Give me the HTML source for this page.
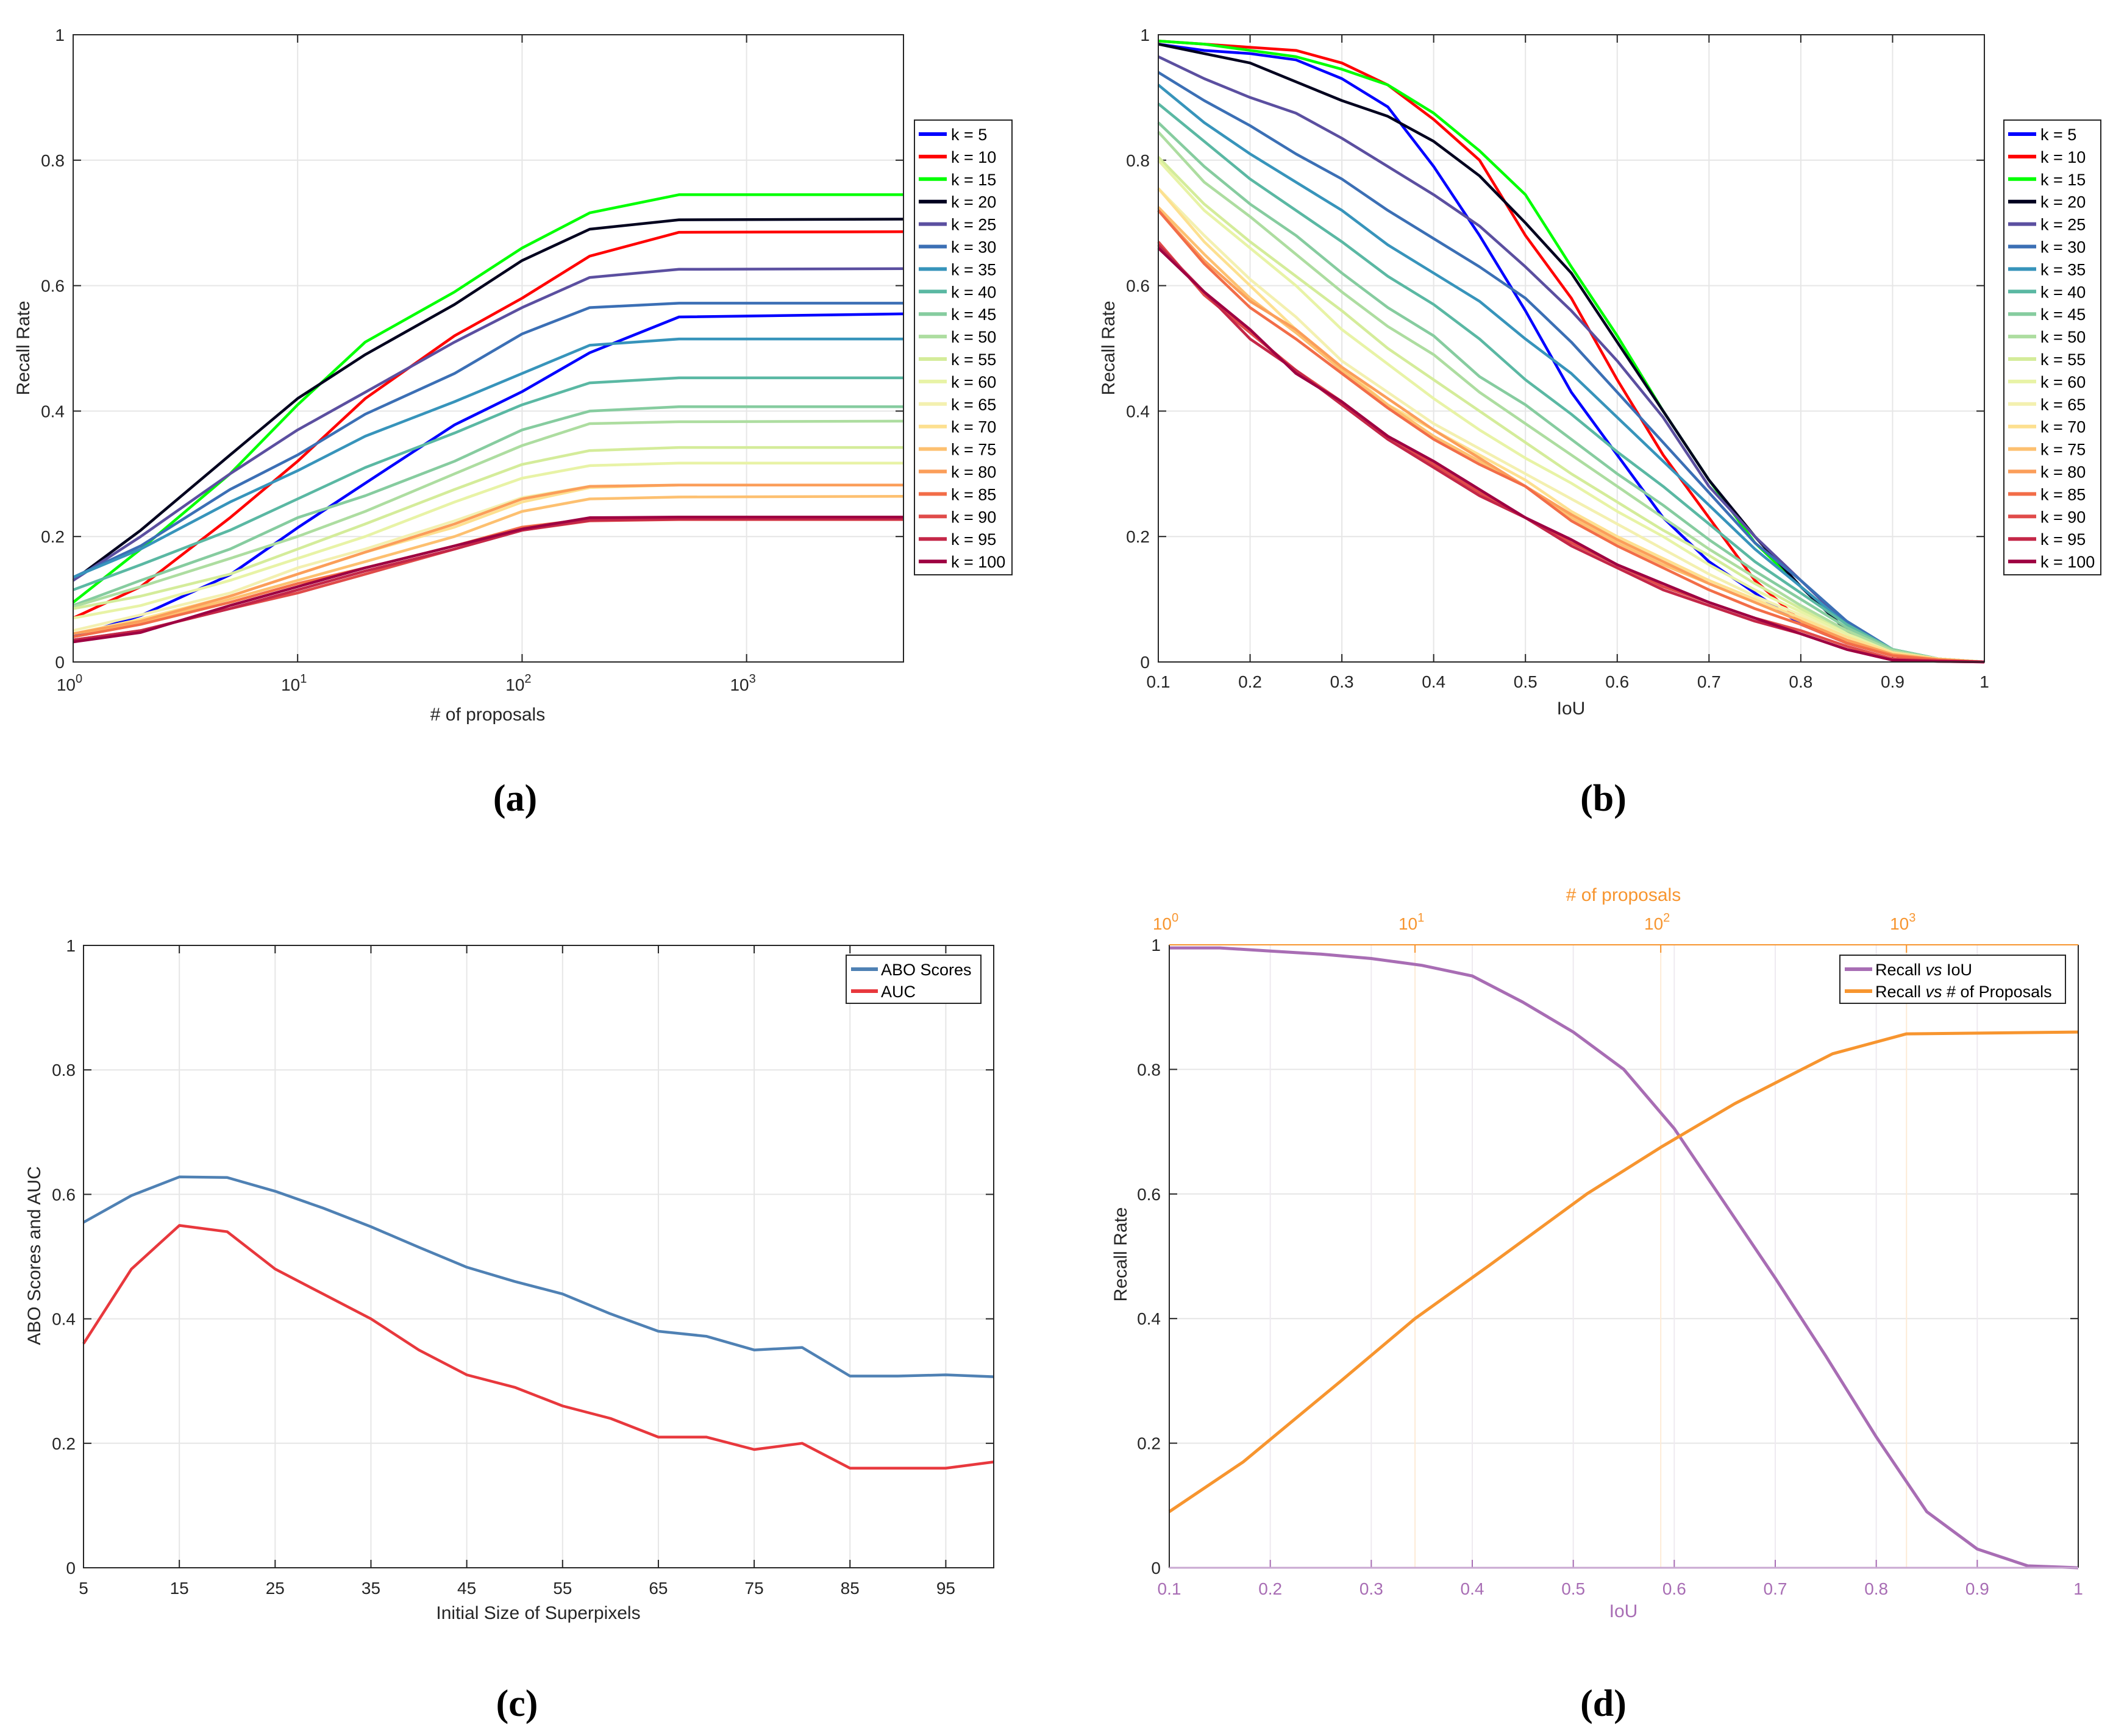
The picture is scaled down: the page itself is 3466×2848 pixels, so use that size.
<!DOCTYPE html>
<html><head><meta charset="utf-8"><title>Recall charts</title>
<style>
html,body{margin:0;padding:0;background:#fff;}
svg{display:block;font-family:"Liberation Sans",Arial,sans-serif;}
</style></head>
<body>
<svg id="fig" width="3466" height="2848" viewBox="0 0 3466 2848" xmlns="http://www.w3.org/2000/svg"></svg>
<script>
// ---------- DATA ----------
const kLabels=["k = 5","k = 10","k = 15","k = 20","k = 25","k = 30","k = 35","k = 40","k = 45","k = 50","k = 55","k = 60","k = 65","k = 70","k = 75","k = 80","k = 85","k = 90","k = 95","k = 100"];
const kColors=["#0000ff","#ff0000","#00ff00","#00001e","#5b4fa0","#3b6fb5","#3794bb","#5ab8a3","#86cc9f","#addda0","#d4ec9a","#e8f3a6","#f3f0b0","#fde090","#fdc070","#fb9e5a","#f26d48","#e04b4a","#c42748","#9e0142"];
const aProposals=[1,2,5,10,20,50,100,200,500,5000];
const aRecall=[
[0.040,0.074,0.139,0.214,0.285,0.378,0.431,0.493,0.550,0.555],
[0.070,0.120,0.230,0.320,0.420,0.520,0.580,0.647,0.685,0.686],
[0.095,0.180,0.300,0.410,0.510,0.590,0.660,0.716,0.745,0.745],
[0.130,0.210,0.330,0.420,0.490,0.570,0.640,0.690,0.705,0.706],
[0.130,0.200,0.300,0.370,0.430,0.510,0.565,0.613,0.626,0.627],
[0.135,0.185,0.275,0.330,0.395,0.460,0.523,0.565,0.572,0.572],
[0.135,0.180,0.255,0.305,0.360,0.415,0.460,0.505,0.515,0.515],
[0.115,0.155,0.210,0.260,0.310,0.365,0.410,0.445,0.453,0.453],
[0.090,0.130,0.180,0.230,0.265,0.320,0.370,0.400,0.407,0.407],
[0.088,0.120,0.165,0.200,0.240,0.300,0.345,0.380,0.383,0.384],
[0.085,0.105,0.140,0.180,0.220,0.275,0.315,0.337,0.342,0.342],
[0.070,0.090,0.130,0.165,0.200,0.255,0.293,0.313,0.317,0.317],
[0.050,0.075,0.110,0.150,0.180,0.225,0.262,0.280,0.282,0.282],
[0.045,0.068,0.105,0.140,0.175,0.215,0.255,0.278,0.282,0.282],
[0.045,0.062,0.100,0.130,0.160,0.200,0.240,0.260,0.263,0.264],
[0.045,0.065,0.105,0.140,0.175,0.220,0.260,0.280,0.282,0.282],
[0.040,0.060,0.095,0.125,0.150,0.185,0.215,0.228,0.230,0.230],
[0.035,0.050,0.085,0.110,0.140,0.180,0.210,0.225,0.227,0.227],
[0.035,0.050,0.085,0.115,0.145,0.180,0.210,0.226,0.228,0.228],
[0.032,0.047,0.090,0.120,0.150,0.185,0.212,0.230,0.231,0.231]];
const bIoU=[0.1,0.15,0.2,0.25,0.3,0.35,0.4,0.45,0.5,0.55,0.6,0.65,0.7,0.75,0.8,0.85,0.9,0.95,1];
const bRecall=[
[.985,.975,.97,.96,.93,.885,.79,.68,.56,.43,.33,.23,.16,.11,.06,.03,.01,.003,0],
[.99,.985,.98,.975,.955,.92,.865,.80,.68,.58,.45,.33,.23,.13,.065,.03,.01,.003,0],
[.99,.985,.975,.965,.945,.92,.875,.815,.745,.63,.52,.40,.29,.19,.12,.06,.02,.005,0],
[.985,.97,.955,.925,.895,.87,.83,.775,.70,.62,.51,.40,.29,.20,.12,.05,.015,.005,0],
[.965,.93,.90,.875,.835,.79,.745,.695,.63,.56,.48,.39,.28,.20,.13,.06,.02,.005,0],
[.94,.895,.855,.81,.77,.72,.675,.63,.58,.51,.43,.35,.27,.19,.13,.065,.02,.005,0],
[.92,.86,.81,.765,.72,.665,.62,.575,.515,.46,.39,.32,.25,.18,.12,.06,.02,.005,0],
[.89,.83,.77,.72,.67,.615,.57,.515,.45,.395,.335,.28,.22,.16,.11,.06,.02,.005,0],
[.86,.79,.73,.68,.62,.565,.52,.455,.41,.355,.30,.25,.195,.145,.10,.055,.02,.005,0],
[.845,.765,.71,.65,.59,.535,.49,.43,.38,.33,.28,.23,.18,.135,.09,.05,.018,.005,0],
[.805,.73,.67,.615,.56,.50,.45,.40,.35,.30,.255,.21,.17,.125,.085,.045,.015,.005,0],
[.80,.72,.66,.60,.53,.475,.42,.37,.325,.285,.24,.20,.155,.115,.08,.045,.015,.005,0],
[.755,.68,.61,.55,.48,.43,.38,.34,.30,.26,.22,.18,.14,.105,.075,.04,.015,.005,0],
[.755,.67,.60,.53,.47,.41,.37,.33,.29,.24,.20,.165,.13,.10,.07,.04,.015,.005,0],
[.725,.65,.58,.525,.465,.41,.36,.32,.28,.23,.19,.155,.125,.095,.065,.035,.012,.004,0],
[.72,.64,.575,.53,.47,.42,.37,.325,.28,.235,.195,.16,.125,.095,.065,.035,.012,.004,0],
[.72,.635,.565,.515,.46,.405,.355,.315,.28,.225,.185,.15,.115,.085,.06,.03,.01,.003,0],
[.67,.585,.525,.465,.415,.36,.315,.27,.23,.19,.155,.12,.095,.07,.05,.025,.005,.002,0],
[.665,.59,.515,.465,.41,.355,.31,.265,.23,.185,.15,.115,.09,.065,.045,.02,.003,.001,0],
[.66,.59,.53,.46,.415,.36,.32,.275,.23,.195,.155,.125,.095,.07,.045,.02,.003,.001,0]];
const cSizes=[5,10,15,20,25,30,35,40,45,50,55,60,65,70,75,80,85,90,95,100];
const cABO=[.555,.598,.628,.627,.605,.578,.548,.515,.483,.46,.44,.408,.38,.372,.35,.354,.308,.308,.31,.307];
const cAUC=[.36,.48,.55,.54,.48,.44,.40,.35,.31,.29,.26,.24,.21,.21,.19,.20,.16,.16,.16,.17];
const dIoU=[0.1,0.15,0.2,0.25,0.3,0.35,0.4,0.45,0.5,0.55,0.6,0.65,0.7,0.75,0.8,0.85,0.9,0.95,1];
const dRecallIoU=[.995,.995,.99,.985,.978,.967,.95,.908,.86,.80,.705,.585,.465,.34,.21,.09,.03,.003,0];
const dProposals=[1,2,5,10,20,50,100,200,500,1000,5000];
const dRecallProp=[.09,.17,.30,.40,.485,.60,.675,.745,.825,.857,.86];
const yTicks=[0,0.2,0.4,0.6,0.8,1];
const yTickLabels=["0","0.2","0.4","0.6","0.8","1"];
const iouTicks=[0.1,0.2,0.3,0.4,0.5,0.6,0.7,0.8,0.9,1];
const iouTickLabels=["0.1","0.2","0.3","0.4","0.5","0.6","0.7","0.8","0.9","1"];
const logTicks=[1,10,100,1000];
const logExps=["0","1","2","3"];
const cTicks=[5,15,25,35,45,55,65,75,85,95];
const cTickLabels=["5","15","25","35","45","55","65","75","85","95"];

// ---------- HELPERS ----------
const NS="http://www.w3.org/2000/svg";
const svg=document.getElementById("fig");
function mk(tag,attrs,parent){const e=document.createElementNS(NS,tag);for(const k in attrs)e.setAttribute(k,attrs[k]);(parent||svg).appendChild(e);return e;}
function linScale(d0,d1,r0,r1){return v=>r0+(v-d0)/(d1-d0)*(r1-r0);}
function logScale(d0,d1,r0,r1){return v=>r0+(Math.log10(v)-Math.log10(d0))/(Math.log10(d1)-Math.log10(d0))*(r1-r0);}
function poly(xs,ys,sx,sy,color,g,w){
  const pts=xs.map((x,i)=>sx(x).toFixed(1)+","+sy(ys[i]).toFixed(1)).join(" ");
  return mk("polyline",{points:pts,fill:"none",stroke:color,"stroke-width":w||4.5,"stroke-linejoin":"round"},g);
}
function panel(name){
  const g=mk("g",{});
  
  
  return g;
}
function yAxis(g,sy,L,R,labX){
  yTicks.forEach((v,i)=>{
    const y=sy(v);
    const gl=mk("line",{x1:L,x2:R,y1:y,y2:y,stroke:"#e6e6e6","stroke-width":2},g);
    
    
    mk("line",{x1:L,x2:L+13,y1:y,y2:y,stroke:"#262626","stroke-width":2},g);
    mk("line",{x1:R,x2:R-13,y1:y,y2:y,stroke:"#262626","stroke-width":2},g);
    const t=mk("text",{x:labX,y:y+10,"text-anchor":"end","font-size":28,fill:"#262626"},g);
    t.textContent=yTickLabels[i];
    
    
  });
}
function xTicksLin(g,sx,ticks,labels,T,B,labY,color,gridColor,tickColor){
  ticks.forEach((v,i)=>{
    const x=sx(v);
    const gl=mk("line",{x1:x,x2:x,y1:T,y2:B,stroke:gridColor||"#e6e6e6","stroke-width":2},g);
    
    
    mk("line",{x1:x,x2:x,y1:B,y2:B-13,stroke:tickColor||"#262626","stroke-width":2},g);
    if(!tickColor) mk("line",{x1:x,x2:x,y1:T,y2:T+13,stroke:"#262626","stroke-width":2},g);
    const t=mk("text",{x:x,y:labY,"text-anchor":"middle","font-size":28,fill:color||"#262626"},g);
    t.textContent=labels[i];
    
    
  });
}
function xTicksLog(g,sx,T,B,labY,color,top){
  logTicks.forEach((v,i)=>{
    const x=sx(v);
    const gl=mk("line",{x1:x,x2:x,y1:T,y2:B,stroke:top?"#fdebd6":"#e6e6e6","stroke-width":2},g);
    
    
    if(top){mk("line",{x1:x,x2:x,y1:T,y2:T+13,stroke:color,"stroke-width":2},g);}
    else{mk("line",{x1:x,x2:x,y1:B,y2:B-13,stroke:"#262626","stroke-width":2},g);mk("line",{x1:x,x2:x,y1:T,y2:T+13,stroke:"#262626","stroke-width":2},g);}
    const t=mk("text",{x:x-6,y:labY,"text-anchor":"middle","font-size":28,fill:color},g);
    t.textContent="10";
    const s=mk("tspan",{dy:-13,"font-size":20},t);
    s.textContent=logExps[i];
    
    
  });
}
function frame(g,L,R,T,B){
  mk("rect",{x:L,y:T,width:R-L,height:B-T,fill:"none",stroke:"#262626","stroke-width":2},g);
}
function label(g,txt,x,y,opts){
  const t=mk("text",Object.assign({x:x,y:y,"text-anchor":"middle","font-size":30,fill:"#262626"},opts||{}),g);
  t.textContent=txt;return t;
}
function caption(txt,x,y,name){
  const t=mk("text",{x:x,y:y,"text-anchor":"middle","font-size":62,"font-weight":"bold","font-family":"Liberation Serif, serif",fill:"#000"});
  t.textContent=txt;
  
  
}
function kLegend(g,x0,y0,w,h,lineX0,lineX1,textX,rowY0,step){
  const lg=mk("g",{},g);
  
  
  mk("rect",{x:x0,y:y0,width:w,height:h,fill:"#fff",stroke:"#262626","stroke-width":2},lg);
  kLabels.forEach((lab,i)=>{
    const y=rowY0+i*step;
    const e=mk("g",{},lg);
    
    
    mk("line",{x1:lineX0,x2:lineX1,y1:y,y2:y,stroke:kColors[i],"stroke-width":6},e);
    const t=mk("text",{x:textX,y:y+10,"font-size":27,fill:"#000"},e);
    t.textContent=lab;
  });
}

// ---------- PANEL A ----------
(function(){
  const L=120,R=1482,T=57,B=1086;
  const g=panel("chart-a-recall-vs-proposals");
  const sx=logScale(1,5000,L,R), sy=linScale(0,1,B,T);
  yAxis(g,sy,L,R,106);
  xTicksLog(g,sx,T,B,1133,"#262626",false);
  aRecall.forEach((ys,i)=>{const p=poly(aProposals,ys,sx,sy,kColors[i],g);
    
    });
  frame(g,L,R,T,B);
  const yl=label(g,"Recall Rate",0,0,{transform:"translate(48,571) rotate(-90)"});
  
  
  const xl=label(g,"# of proposals",800,1182);
  
  
  kLegend(g,1500,197,160,746,1507,1553,1560,220,36.9);
  caption("(a)",845,1330,"caption-a");
})();

// ---------- PANEL B ----------
(function(){
  const L=1900,R=3255,T=57,B=1086;
  const g=panel("chart-b-recall-vs-iou");
  const sx=linScale(0.1,1,L,R), sy=linScale(0,1,B,T);
  yAxis(g,sy,L,R,1886);
  xTicksLin(g,sx,iouTicks,iouTickLabels,T,B,1128);
  bRecall.forEach((ys,i)=>{const p=poly(bIoU,ys,sx,sy,kColors[i],g);
    
    });
  frame(g,L,R,T,B);
  const yl=label(g,"Recall Rate",0,0,{transform:"translate(1828,571) rotate(-90)"});
  
  
  const xl=label(g,"IoU",2577,1172);
  
  
  kLegend(g,3287,197,159,746,3294,3340,3347,220,36.9);
  caption("(b)",2630,1330,"caption-b");
})();

// ---------- PANEL C ----------
(function(){
  const L=137,R=1630,T=1551,B=2572;
  const g=panel("chart-c-abo-auc");
  const sx=linScale(5,100,L,R), sy=linScale(0,1,B,T);
  yAxis(g,sy,L,R,124);
  xTicksLin(g,sx,cTicks,cTickLabels,T,B,2615);
  const p1=poly(cSizes,cABO,sx,sy,"#4f81b4",g);
  
  
  const p2=poly(cSizes,cAUC,sx,sy,"#e8383d",g);
  
  
  frame(g,L,R,T,B);
  const yl=label(g,"ABO Scores and AUC",0,0,{transform:"translate(66,2060) rotate(-90)"});
  
  
  const xl=label(g,"Initial Size of Superpixels",883,2656);
  
  
  const lg=mk("g",{},g);
  
  
  mk("rect",{x:1388,y:1567,width:221,height:79,fill:"#fff",stroke:"#262626","stroke-width":2},lg);
  [["ABO Scores","#4f81b4",1590],["AUC","#e8383d",1626]].forEach(e=>{
    const eg=mk("g",{},lg);
    
    
    mk("line",{x1:1396,x2:1440,y1:e[2],y2:e[2],stroke:e[1],"stroke-width":6},eg);
    const t=mk("text",{x:1445,y:e[2]+10,"font-size":27,fill:"#000"},eg);t.textContent=e[0];
  });
  caption("(c)",848,2815,"caption-c");
})();

// ---------- PANEL D ----------
(function(){
  const L=1918,R=3409,T=1550,B=2572;
  const g=panel("chart-d-dual-axis-recall");
  const sx=linScale(0.1,1,L,R), sxTop=logScale(1,5000,L,R), sy=linScale(0,1,B,T);
  yAxis(g,sy,L,R,1904);
  xTicksLin(g,sx,iouTicks,iouTickLabels,T,B,2616,"#a86db4","#eeeaf0","#a86db4");
  xTicksLog(g,sxTop,T,B,1525,"#f7952f",true);
  const p1=poly(dIoU,dRecallIoU,sx,sy,"#a86db4",g,5);
  
  
  const p2=poly(dProposals,dRecallProp,sxTop,sy,"#f7952f",g,5);
  
  
  mk("line",{x1:L,x2:L,y1:T,y2:B,stroke:"#262626","stroke-width":2},g);
  mk("line",{x1:R,x2:R,y1:T,y2:B,stroke:"#262626","stroke-width":2},g);
  mk("line",{x1:L,x2:R,y1:B,y2:B,stroke:"#c9a8d2","stroke-width":3},g);
  mk("line",{x1:L,x2:R,y1:T,y2:T,stroke:"#f7952f","stroke-width":2},g);
  const yl=label(g,"Recall Rate",0,0,{transform:"translate(1848,2058) rotate(-90)"});
  
  
  const xl=label(g,"IoU",2663,2653,{fill:"#a86db4"});
  
  
  const xt=label(g,"# of proposals",2663,1478,{fill:"#f7952f"});
  
  
  const lg=mk("g",{},g);
  
  
  mk("rect",{x:3018,y:1567,width:370,height:79,fill:"#fff",stroke:"#262626","stroke-width":2},lg);
  const e1=mk("g",{},lg);
  
  
  mk("line",{x1:3026,x2:3071,y1:1590,y2:1590,stroke:"#a86db4","stroke-width":6},e1);
  const t1=mk("text",{x:3076,y:1600,"font-size":27,fill:"#000"},e1);
  t1.innerHTML='Recall <tspan font-style="italic">vs</tspan> IoU';
  const e2=mk("g",{},lg);
  
  
  mk("line",{x1:3026,x2:3071,y1:1626,y2:1626,stroke:"#f7952f","stroke-width":6},e2);
  const t2=mk("text",{x:3076,y:1636,"font-size":27,fill:"#000"},e2);
  t2.innerHTML='Recall <tspan font-style="italic">vs</tspan> # of Proposals';
  caption("(d)",2630,2815,"caption-d");
})();
</script>
</body></html>
